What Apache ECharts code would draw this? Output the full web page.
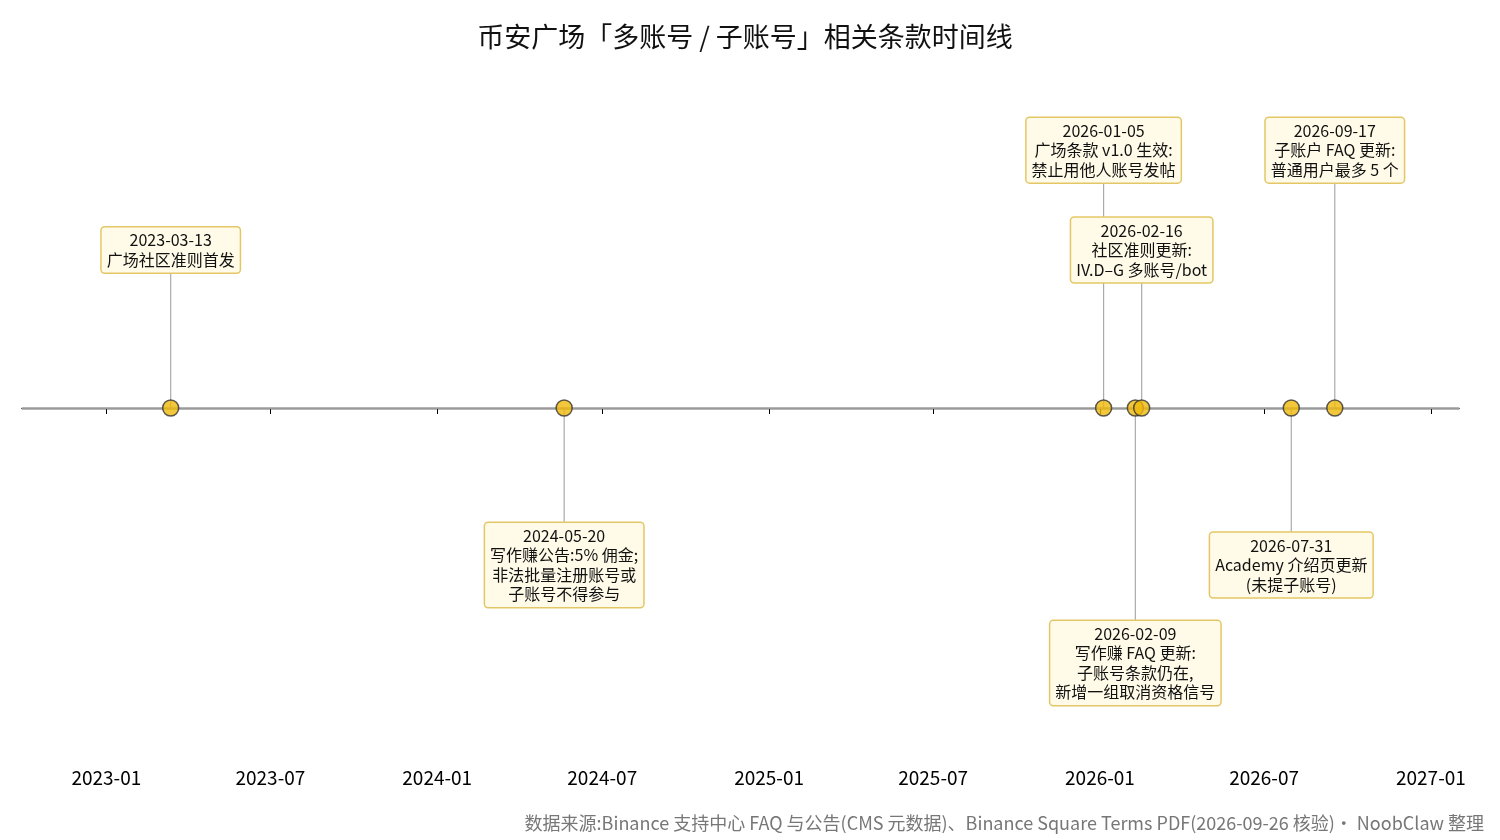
<!DOCTYPE html>
<html><head><meta charset="utf-8">
<script src="https://cdn.jsdelivr.net/npm/echarts@6/dist/echarts.min.js"></script>
<style>html,body{margin:0;padding:0;background:#fff}#c{width:1500px;height:840px}</style>
</head><body><div id="c"></div>
<script>
const eventDates = ['2023-03-13','2024-05-20','2026-01-05','2026-02-09','2026-02-16','2026-07-31','2026-09-17'];
const eventTexts = [
  '2023-03-13\n广场社区准则首发',
  '2024-05-20\n写作赚公告:5% 佣金;\n非法批量注册账号或\n子账号不得参与',
  '2026-01-05\n广场条款 v1.0 生效:\n禁止用他人账号发帖',
  '2026-02-09\n写作赚 FAQ 更新:\n子账号条款仍在,\n新增一组取消资格信号',
  '2026-02-16\n社区准则更新:\nIV.D–G 多账号/bot',
  '2026-07-31\nAcademy 介绍页更新\n(未提子账号)',
  '2026-09-17\n子账户 FAQ 更新:\n普通用户最多 5 个'
];
const labelLevels = [0.454, -0.451, 0.741, -0.733, 0.454, -0.451, 0.741];
const tickLabels = ['2023-01','2023-07','2024-01','2024-07','2025-01','2025-07','2026-01','2026-07','2027-01'];
const FONT = '"Noto Sans CJK SC", "Noto Sans", sans-serif';
const ts = d => new Date(d + 'T00:00:00Z').getTime();
const tickVals = tickLabels.map(t => ts(t + '-01'));
const chart = echarts.init(document.getElementById('c'));
chart.setOption({
  animation: false,
  textStyle: {fontFamily: FONT},
  title: {text: '币安广场「多账号 / 子账号」相关条款时间线', left: 740, textAlign: 'center', top: 18,
    textStyle: {fontFamily: FONT, fontSize: 27, fontWeight: 'normal', color: '#111'}},
  graphic: [{type: 'text', right: 16, bottom: 8, style: {text: '数据来源:Binance 支持中心 FAQ 与公告(CMS 元数据)、Binance Square Terms PDF(2026-09-26 核验)· NoobClaw 整理',
    fill: '#777', font: '18px ' + FONT}}],
  grid: {left: 22, right: 41, top: 60, bottom: 84},
  xAxis: {type: 'value', min: ts('2022-09-30'), max: ts('2027-02-01'),
    axisLine: {lineStyle: {color: '#000', width: 1.3}},
    axisTick: {show: true, customValues: tickVals, length: 6, lineStyle: {color: '#000'}},
    axisLabel: {customValues: tickVals, color: '#000', fontSize: 19, margin: 12, fontFamily: FONT,
      formatter: v => { const d = new Date(v); return d.getUTCFullYear() + '-' + String(d.getUTCMonth()+1).padStart(2,'0'); }},
    splitLine: {show: false}},
  yAxis: {type: 'value', min: -1, max: 1, show: false},
  series: [
    {type: 'custom', z: 2,
      data: eventDates.map((d, i) => [ts(d), labelLevels[i], i]),
      renderItem: (params, api) => {
        const x = api.value(0), lv = api.value(1), i = api.value(2);
        const p0 = api.coord([x, 0]), p1 = api.coord([x, lv]);
        return {type: 'group', children: [
          {type: 'line', shape: {x1: p0[0], y1: p0[1], x2: p1[0], y2: p1[1]}, style: {stroke: '#aaa', lineWidth: 1.2}},
          {type: 'text', z2: 10, x: p1[0], y: p1[1], style: {text: eventTexts[i], align: 'center', verticalAlign: 'middle',
            font: '16px ' + FONT, fill: '#111', lineHeight: 19.5, backgroundColor: '#fffbe8', borderColor: '#e3c766',
            borderWidth: 1.5, borderRadius: 3, padding: [3, 5, 3, 5]}}
        ]};
      }},
    {type: 'scatter', z: 5, symbolSize: 16,
      itemStyle: {color: '#f0b90b', borderColor: '#333', borderWidth: 1.5},
      data: eventDates.map(d => [ts(d), 0]),
      markLine: {silent: true, symbol: 'none', label: {show: false}, lineStyle: {color: '#999', type: 'solid', width: 1.3},
        data: [{yAxis: 0}]}}
  ]
});
</script></body></html>
